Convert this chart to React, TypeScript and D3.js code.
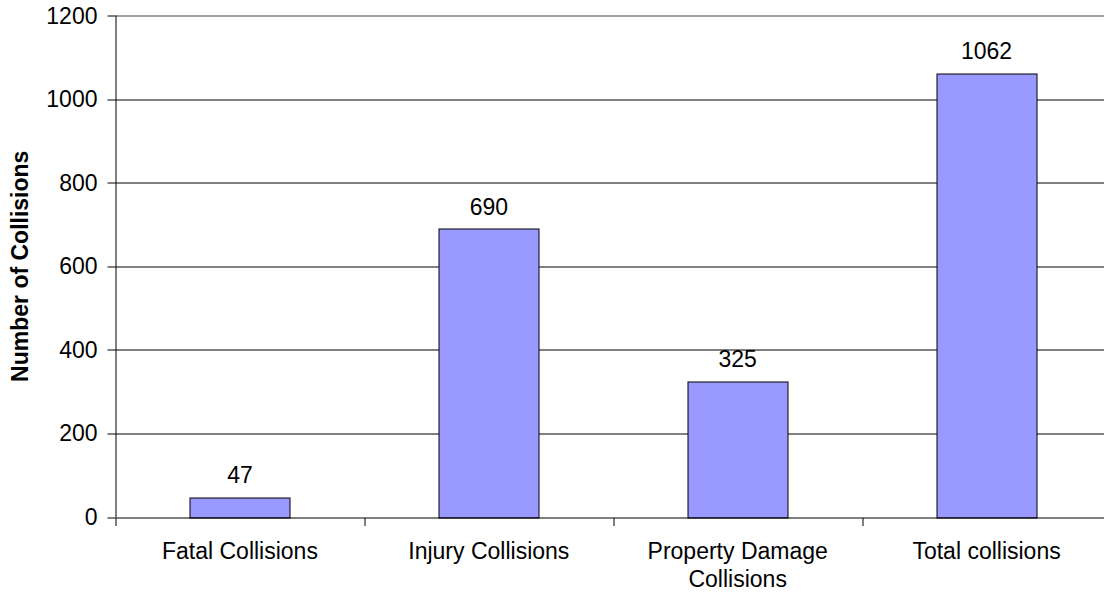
import { useEffect, useRef } from 'react';
import * as d3 from 'd3';

const categories = ['Fatal Collisions', 'Injury Collisions', 'Property Damage Collisions', 'Total collisions'];
const categoryLines = [['Fatal Collisions'], ['Injury Collisions'], ['Property Damage', 'Collisions'], ['Total collisions']];
const values = [47, 690, 325, 1062];
const yTicks = [0, 200, 400, 600, 800, 1000, 1200];

export default function App() {
  const svgRef = useRef<SVGSVGElement>(null);

  useEffect(() => {
    if (!svgRef.current) return;
    const W = 1104;
    const H = 594;
    const margin = { top: 15.5, right: -7, bottom: 77, left: 115.5 };
    const width = W - margin.left - margin.right;
    const height = H - margin.top - margin.bottom;
    const font = 'Arial, "Liberation Sans", sans-serif';
    const fs = '23px';

    const svg = d3.select(svgRef.current);
    svg.selectAll('*').remove();
    svg.attr('width', W).attr('height', H);

    const g = svg.append('g').attr('transform', `translate(${margin.left},${margin.top})`);

    const x = d3.scaleBand().domain(categories).range([0, width]).paddingInner(0).paddingOuter(0);
    const y = d3.scaleLinear().domain([0, 1200]).range([height, 0]);

    // Grid
    g.append('g')
      .selectAll('line')
      .data(yTicks.filter((d) => d > 0))
      .join('line')
      .attr('x1', 0)
      .attr('x2', width)
      .attr('y1', (d) => Math.round(y(d)) + 0.5)
      .attr('y2', (d) => Math.round(y(d)) + 0.5)
      .attr('stroke', (d) => (d === 1200 ? '#808080' : '#000'))
      .attr('stroke-width', (d) => (d === 1200 ? 1.5 : 1));

    // Bars
    const barW = 100;
    g.selectAll('.bar')
      .data(values)
      .join('rect')
      .attr('class', 'bar')
      .attr('x', (_, i) => Math.round(x(categories[i])! + x.bandwidth() / 2 - barW / 2) + 0.5)
      .attr('y', (d) => Math.round(y(d)) + 0.5)
      .attr('width', barW)
      .attr('height', (d) => Math.round(y(0)) - Math.round(y(d)))
      .attr('fill', '#9999ff')
      .attr('stroke', '#000')
      .attr('stroke-width', 1);

    // Value labels
    g.selectAll('.val')
      .data(values)
      .join('text')
      .attr('class', 'val')
      .attr('x', (_, i) => x(categories[i])! + x.bandwidth() / 2)
      .attr('y', (d) => y(d) - 14)
      .attr('text-anchor', 'middle')
      .attr('font-family', font)
      .attr('font-size', fs)
      .attr('fill', '#000')
      .text((d) => String(d));

    // Y axis
    const yAxis = g.append('g');
    yAxis.append('line')
      .attr('x1', 0.5).attr('x2', 0.5)
      .attr('y1', 0).attr('y2', height + 0.5)
      .attr('stroke', '#000');
    yAxis.selectAll('.ytick')
      .data(yTicks)
      .join('line')
      .attr('x1', -8).attr('x2', 0)
      .attr('y1', (d) => Math.round(y(d)) + 0.5)
      .attr('y2', (d) => Math.round(y(d)) + 0.5)
      .attr('stroke', '#000');
    yAxis.selectAll('.ylab')
      .data(yTicks)
      .join('text')
      .attr('x', -18)
      .attr('y', (d) => y(d))
      .attr('dy', '0.35em')
      .attr('text-anchor', 'end')
      .attr('font-family', font)
      .attr('font-size', fs)
      .attr('fill', '#000')
      .text((d) => String(d));

    // X axis
    const xAxis = g.append('g').attr('transform', `translate(0,${Math.round(y(0)) + 0.5})`);
    xAxis.append('line').attr('x1', 0).attr('x2', width).attr('stroke', '#000');
    xAxis.selectAll('.xtick')
      .data(categories)
      .join('line')
      .attr('x1', (d) => Math.round(x(d)!) + 0.5)
      .attr('x2', (d) => Math.round(x(d)!) + 0.5)
      .attr('y1', 0).attr('y2', 8)
      .attr('stroke', '#000');

    xAxis.selectAll('.xlab')
      .data(categories)
      .join('text')
      .attr('x', (d) => x(d)! + x.bandwidth() / 2)
      .attr('y', 41)
      .attr('text-anchor', 'middle')
      .attr('font-family', font)
      .attr('font-size', fs)
      .attr('fill', '#000')
      .each(function (_, i) {
        const t = d3.select(this);
        categoryLines[i].forEach((line, j) => {
          t.append('tspan')
            .attr('x', x(categories[i])! + x.bandwidth() / 2)
            .attr('dy', j === 0 ? 0 : 28)
            .text(line);
        });
      });

    // Y title
    svg.append('text')
      .attr('transform', `translate(28,${margin.top + height / 2}) rotate(-90)`)
      .attr('text-anchor', 'middle')
      .attr('font-family', font)
      .attr('font-size', fs)
      .attr('font-weight', 'bold')
      .attr('fill', '#000')
      .text('Number of Collisions');
  }, []);

  return (
    <div style={{ position: 'absolute', left: 0, top: 0 }}>
      <svg ref={svgRef} style={{ display: 'block' }} />
    </div>
  );
}
